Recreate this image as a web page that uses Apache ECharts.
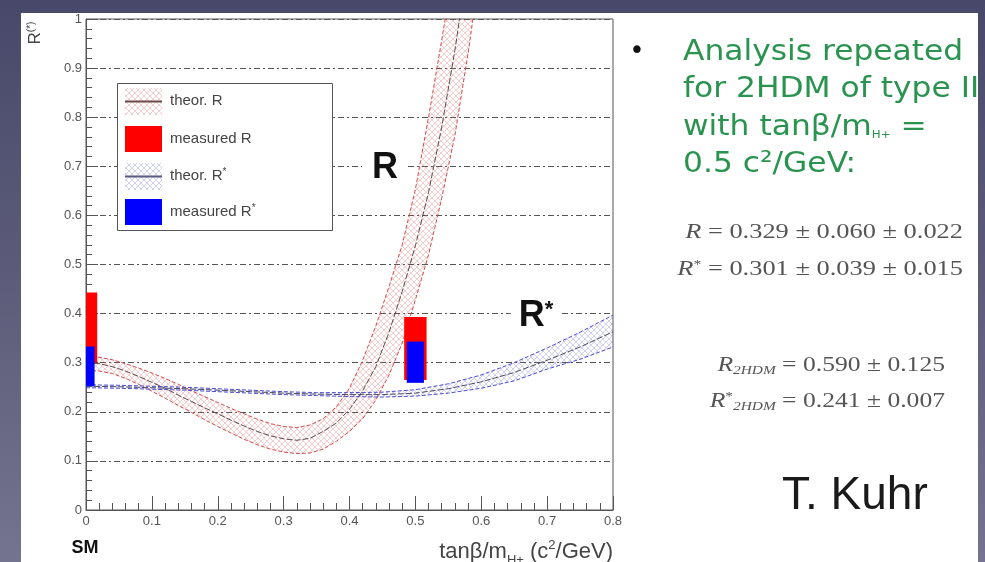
<!DOCTYPE html>
<html>
<head>
<meta charset="utf-8">
<script src="https://cdn.jsdelivr.net/npm/echarts@6.0.0/dist/echarts.min.js"></script>
<style>
html, body { margin: 0; padding: 0; width: 985px; height: 562px; overflow: hidden;
  background: linear-gradient(to bottom, #48486a 0%, #5a5a78 45%, #747490 100%); }
#panel { position: absolute; left: 21px; top: 13px; width: 957px; height: 549px; background: #fff; }
#main { position: absolute; left: 0; top: 0; width: 978px; height: 562px; }
</style>
</head>
<body>
<div id="panel"></div>
<div id="main"></div>
<script>
// theory band R vs tanB/mH+ (2HDM type II)
var xR = [0, 0.02, 0.04, 0.06, 0.08, 0.10, 0.12, 0.14, 0.16, 0.18, 0.20, 0.22, 0.24, 0.26, 0.28, 0.30,
  0.32, 0.34, 0.36, 0.38, 0.40, 0.42, 0.44, 0.46, 0.48, 0.50, 0.52, 0.54, 0.56, 0.58, 0.60];
var rCenter = [0.300, 0.298, 0.292, 0.283, 0.272, 0.260, 0.248, 0.234, 0.221, 0.208, 0.196, 0.183, 0.171, 0.160, 0.151, 0.145,
  0.142, 0.146, 0.160, 0.177, 0.205, 0.243, 0.292, 0.362, 0.445, 0.538, 0.647, 0.780, 0.936, 1.12, 1.32];
var rUpper = [0.312, 0.311, 0.306, 0.298, 0.289, 0.279, 0.268, 0.256, 0.243, 0.231, 0.219, 0.207, 0.196, 0.185, 0.176, 0.170,
  0.168, 0.173, 0.186, 0.210, 0.248, 0.305, 0.375, 0.455, 0.54, 0.653, 0.80, 0.957, 1.12, 1.30, 1.50];
var rLower = [0.284, 0.283, 0.278, 0.268, 0.256, 0.242, 0.228, 0.213, 0.199, 0.184, 0.170, 0.157, 0.144, 0.133, 0.124, 0.118,
  0.115, 0.116, 0.124, 0.140, 0.160, 0.186, 0.224, 0.275, 0.340, 0.428, 0.52, 0.635, 0.763, 0.93, 1.12];

// theory band R*
var xRs = [0, 0.05, 0.10, 0.15, 0.20, 0.25, 0.30, 0.35, 0.40, 0.45, 0.50, 0.55, 0.60, 0.65, 0.70, 0.75, 0.80];
var rsCenter = [0.252, 0.251, 0.249, 0.247, 0.244, 0.241, 0.238, 0.236, 0.235, 0.235, 0.238, 0.247, 0.261, 0.280, 0.305, 0.332, 0.363];
var rsUpper = [0.255, 0.254, 0.252, 0.250, 0.247, 0.244, 0.241, 0.239, 0.239, 0.240, 0.245, 0.257, 0.275, 0.300, 0.330, 0.362, 0.397];
var rsLower = [0.249, 0.248, 0.246, 0.244, 0.241, 0.238, 0.235, 0.233, 0.231, 0.230, 0.232, 0.238, 0.248, 0.263, 0.287, 0.307, 0.332];

// measured values (SM point and 2HDM point)
var barX = [0, 0.5];
var measRLow = [0.300, 0.265];
var measRHigh = [0.443, 0.393];
var measRsLow = [0.252, 0.259];
var measRsHigh = [0.333, 0.343];

var FONT = 'Liberation Sans';
var SERIF = 'Liberation Serif';

function hatch(color) {
    var c = document.createElement('canvas');
    c.width = 6;
    c.height = 6;
    var g = c.getContext('2d');
    g.strokeStyle = color;
    g.lineWidth = 1;
    g.beginPath();
    g.moveTo(0, 6); g.lineTo(6, 0);
    g.moveTo(0, 0); g.lineTo(6, 6);
    g.stroke();
    return c;
}
var redHatch = hatch('rgba(225,100,100,0.32)');
var blueHatch = hatch('rgba(110,110,215,0.32)');

function pairs(xs, ys) {
    return xs.map(function (x, i) { return [x, ys[i]]; });
}

// hatched band between lo and hi, drawn as one polygon through the axes
function band(name, xs, lo, hi, img) {
    return {
        name: name, type: 'custom', silent: true, z: 2, clip: true,
        data: xs.map(function (x, i) { return [x, lo[i], hi[i]]; }),
        encode: { x: 0, y: [1, 2] },
        renderItem: function (params, api) {
            if (params.dataIndexInside !== 0) return null;
            var n = params.dataInsideLength, pts = [], i;
            for (i = 0; i < n; i++) pts.push(api.coord([api.value(0, i), api.value(2, i)]));
            for (i = n - 1; i >= 0; i--) pts.push(api.coord([api.value(0, i), api.value(1, i)]));
            return { type: 'polygon', shape: { points: pts }, style: { fill: { image: img, repeat: 'repeat' } } };
        }
    };
}

function curve(xs, ys, color, dash) {
    return {
        type: 'line', data: pairs(xs, ys), symbol: 'none', silent: true, z: 3,
        lineStyle: { color: color, width: 1, type: dash }
    };
}

function measured(name, lo, hi, halfW, color) {
    return {
        name: name, type: 'custom', z: 6,
        data: barX.map(function (x, i) { return [x, lo[i], hi[i]]; }),
        encode: { x: 0, y: [1, 2] },
        renderItem: function (params, api) {
            var a = api.coord([api.value(0) - halfW, api.value(2)]);
            var b = api.coord([api.value(0) + halfW, api.value(1)]);
            var cs = params.coordSys;
            var shape = echarts.graphic.clipRectByRect(
                { x: a[0], y: a[1], width: b[0] - a[0], height: b[1] - a[1] },
                { x: cs.x, y: cs.y, width: cs.width, height: cs.height });
            return shape && { type: 'rect', shape: shape, style: { fill: color } };
        }
    };
}

function tickLabel(v) {
    return v === 0 ? '0' : String(+v.toFixed(1));
}

var series = [
    band('theor. R', xR, rLower, rUpper, redHatch),
    band('theor. R*', xRs, rsLower, rsUpper, blueHatch),
    curve(xR, rUpper, '#d24a4a', [4, 2]),
    curve(xR, rLower, '#d24a4a', [4, 2]),
    curve(xR, rCenter, '#5a4a4a', [6, 2]),
    curve(xRs, rsUpper, '#4a4ad0', [4, 2]),
    curve(xRs, rsLower, '#4a4ad0', [4, 2]),
    curve(xRs, rsCenter, '#4a4a60', [6, 2]),
    measured('measured R', measRLow, measRHigh, 0.017, '#ff0000'),
    measured('measured R*', measRsLow, measRsHigh, 0.013, '#0000ff')
];

var legendText = { fontSize: 15, fontFamily: FONT, fill: '#444', verticalAlign: 'middle',
    rich: { s: { fontSize: 10, fontFamily: FONT, fill: '#444', padding: [0, 0, 8, 0] } } };
function lt(y, text) {
    return { type: 'text', x: 170, y: y, z: 101, style: Object.assign({ text: text }, legendText) };
}

var green = '#2a9350';
function greenLine(y, text) {
    return {
        type: 'text', x: 683, y: y, z: 100, scaleX: 1.08,
        style: {
            text: text, fontSize: 29, fontFamily: 'DejaVu Sans', fill: green, verticalAlign: 'middle',
            rich: { sub: { fontSize: 11, fontFamily: 'DejaVu Sans', fill: green, padding: [16, 0, 0, 0] } }
        }
    };
}
var mathRich = {
    i: { fontSize: 20, fontFamily: SERIF, fontStyle: 'italic', fill: '#555' },
    sup: { fontSize: 12, fontFamily: SERIF, fill: '#555', padding: [0, 0, 10, 0] },
    sub: { fontSize: 12, fontFamily: SERIF, fontStyle: 'italic', fill: '#555', padding: [10, 0, 0, 0] }
};
function mathLine(xRight, y, text, sx) {
    return {
        type: 'text', x: xRight, y: y, z: 100, scaleX: sx,
        style: { text: text, fontSize: 20, fontFamily: SERIF, fill: '#555', align: 'right', verticalAlign: 'middle', rich: mathRich }
    };
}

var chart = echarts.init(document.getElementById('main'));
chart.setOption({
    animation: false,
    backgroundColor: 'transparent',
    grid: { left: 86, top: 19, width: 527, height: 491, outerBoundsMode: 'none',
            show: true, borderColor: '#555', borderWidth: 1 },
    xAxis: {
        type: 'value', min: 0, max: 0.8, interval: 0.1,
        axisLine: { show: true, lineStyle: { color: '#555' } },
        axisTick: { inside: true, length: 14, lineStyle: { color: '#555' } },
        minorTick: { show: true, splitNumber: 5, length: 7, lineStyle: { color: '#555' } },
        splitLine: { show: false },
        axisLabel: { fontSize: 13, fontFamily: FONT, color: '#555', margin: 5, formatter: tickLabel },
        name: 'tanβ/m{sub|H+} (c{sup|2}/GeV)',
        nameLocation: 'end', nameGap: 0,
        nameTextStyle: {
            fontSize: 22, fontFamily: FONT, color: '#444', align: 'right', verticalAlign: 'top', padding: [26, 0, 0, 0],
            rich: {
                sub: { fontSize: 13, fontFamily: FONT, color: '#444', padding: [18, 0, 0, 0] },
                sup: { fontSize: 13, fontFamily: FONT, color: '#444', padding: [0, 0, 12, 0] }
            }
        }
    },
    yAxis: {
        type: 'value', min: 0, max: 1, interval: 0.1,
        axisLine: { show: true, lineStyle: { color: '#555' } },
        axisTick: { inside: true, length: 12, lineStyle: { color: '#555' } },
        minorTick: { show: true, splitNumber: 5, length: 6, lineStyle: { color: '#555' } },
        splitLine: { show: true, lineStyle: { color: '#555', width: 1, type: [6, 3, 2, 3] } },
        axisLabel: { fontSize: 13, fontFamily: FONT, color: '#555', margin: 4, formatter: tickLabel }
    },
    series: series,
    graphic: [
        // axis titles
        { type: 'text', x: 35, y: 33, rotation: Math.PI / 2, z: 100,
          style: { text: 'R{s|(*)}', fontSize: 17, fontFamily: FONT, fill: '#444', align: 'center', verticalAlign: 'middle',
                   rich: { s: { fontSize: 10, fontFamily: FONT, fill: '#444', padding: [0, 0, 8, 0] } } } },
        { type: 'text', x: 85, y: 548, z: 100,
          style: { text: 'SM', fontSize: 18, fontWeight: 'bold', fontFamily: FONT, fill: '#111', align: 'center', verticalAlign: 'middle' } },
        // curve labels
        { type: 'text', x: 385, y: 168, z: 100,
          style: { text: 'R', fontSize: 36, fontWeight: 'bold', fontFamily: FONT, fill: '#111', align: 'center', verticalAlign: 'middle',
                   backgroundColor: '#fff', padding: [0, 10] } },
        { type: 'text', x: 536, y: 316, z: 100,
          style: { text: 'R{s|*}', fontSize: 36, fontWeight: 'bold', fontFamily: FONT, fill: '#111', align: 'center', verticalAlign: 'middle',
                   backgroundColor: '#fff', padding: [0, 8],
                   rich: { s: { fontSize: 22, fontWeight: 'bold', fontFamily: FONT, fill: '#111', padding: [0, 0, 12, 0] } } } },
        // legend
        { type: 'rect', z: 100, shape: { x: 117.5, y: 83.5, width: 215, height: 147 },
          style: { fill: '#fff', stroke: '#555', lineWidth: 1 } },
        { type: 'rect', z: 101, shape: { x: 125, y: 88, width: 37, height: 27 },
          style: { fill: { image: redHatch, repeat: 'repeat' } } },
        { type: 'line', z: 102, shape: { x1: 125, y1: 101.5, x2: 162, y2: 101.5 },
          style: { stroke: '#6a4a4a', lineWidth: 2 } },
        { type: 'rect', z: 101, shape: { x: 125, y: 126, width: 37, height: 26 }, style: { fill: '#ff0000' } },
        { type: 'rect', z: 101, shape: { x: 125, y: 163, width: 37, height: 27 },
          style: { fill: { image: blueHatch, repeat: 'repeat' } } },
        { type: 'line', z: 102, shape: { x1: 125, y1: 176.5, x2: 162, y2: 176.5 },
          style: { stroke: '#5a5a80', lineWidth: 2 } },
        { type: 'rect', z: 101, shape: { x: 125, y: 199, width: 37, height: 26 }, style: { fill: '#0000ff' } },
        lt(101, 'theor. R'),
        lt(139, 'measured R'),
        lt(176, 'theor. R{s|*}'),
        lt(212, 'measured R{s|*}'),
        // slide text
        { type: 'text', x: 637, y: 52, z: 100,
          style: { text: '•', fontSize: 26, fontFamily: 'DejaVu Sans', fill: '#111', align: 'center', verticalAlign: 'middle' } },
        greenLine(52, 'Analysis repeated'),
        greenLine(89, 'for 2HDM of type II'),
        greenLine(127, 'with tanβ/m{sub|H+} ='),
        greenLine(164, '0.5 c²/GeV:'),
        mathLine(963, 233, '{i|R} = 0.329 ± 0.060 ± 0.022', 1.32),
        mathLine(963, 270, '{i|R}{sup|*} = 0.301 ± 0.039 ± 0.015', 1.32),
        mathLine(945, 366, '{i|R}{sub|2HDM} = 0.590 ± 0.125', 1.28),
        mathLine(945, 402, '{i|R}{sup|*}{sub|2HDM} = 0.241 ± 0.007', 1.28),
        { type: 'text', x: 782, y: 496, z: 100,
          style: { text: 'T. Kuhr', fontSize: 46, fontFamily: FONT, fill: '#1a1a1a', verticalAlign: 'middle' } }
    ]
});
</script>
</body>
</html>
